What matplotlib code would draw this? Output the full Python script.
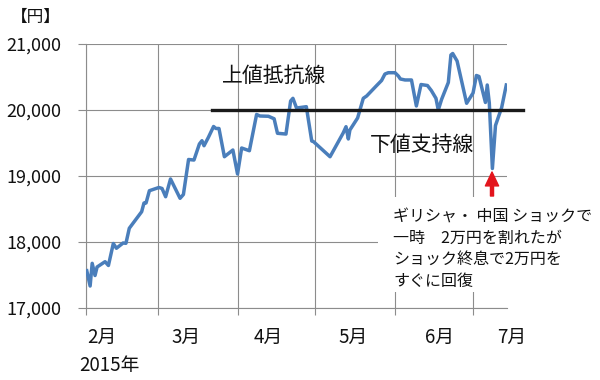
import matplotlib
matplotlib.use("Agg")
import matplotlib.pyplot as plt
import matplotlib.transforms as mtransforms
from matplotlib.patches import Rectangle
from matplotlib.ticker import FuncFormatter

plt.rcParams['font.family'] = ['Noto Sans CJK JP', 'DejaVu Sans']

# ---- data (x = days since 2015-02-01, y = price in yen) ----
days = [0.3, 1.6, 2.4, 3.5, 4.3, 7.4, 8.7, 10.6, 11.8, 14.4, 15.5, 16.8, 18.4,
        21.6, 22.5, 23.3, 24.6, 28.3, 29.5, 30.9, 32.8, 36.5, 37.8, 39.8, 41.9,
        44.0, 45.0, 45.8, 47.5, 49.5, 50.4, 51.6, 53.7, 57.0, 58.8, 60.4, 63.4,
        66.2, 67.5, 70.8, 73.0, 74.3, 77.6, 79.4, 80.3, 81.7, 85.5, 87.6, 88.3,
        94.7, 99.8, 100.9, 101.8, 102.4, 105.4, 107.6, 108.9, 112.8, 114.7,
        116.0, 117.3, 119.9, 121.2, 122.0, 123.8, 126.3, 128.2, 130.0, 132.5,
        134.0, 135.8, 136.7, 138.0, 140.6, 141.6, 142.3, 144.0, 147.7, 150.2,
        151.5, 152.5, 155.0, 155.7, 156.5, 157.7, 158.9, 161.3, 163.1]
values = [17565, 17333, 17677, 17492, 17621, 17702, 17644, 17977, 17905, 17985,
          17980, 18208, 18292, 18459, 18591, 18591, 18777, 18826, 18811, 18686,
          18955, 18662, 18720, 19250, 19242, 19485, 19535, 19459, 19586, 19750,
          19720, 19720, 19292, 19394, 19030, 19424, 19383, 19932, 19909, 19905,
          19867, 19647, 19636, 20136, 20177, 20030, 20050, 19530, 19520, 19292,
          19652, 19747, 19561, 19697, 19879, 20177, 20212, 20371, 20447, 20545,
          20565, 20565, 20515, 20470, 20455, 20455, 20061, 20386, 20371, 20295,
          20177, 20000, 20162, 20417, 20833, 20856, 20742, 20102, 20258, 20523,
          20508, 20114, 20379, 20106, 19114, 19765, 20038, 20379]

month_starts = [0, 28, 59, 89, 120, 150]
month_labels = ['2月', '3月', '4月', '5月', '6月', '7月']
year_label = '2015年'
unit_label = '【円】'
y_ticks = [17000, 18000, 19000, 20000, 21000]
level = 20000
resistance_label = '上値抵抗線'
support_label = '下値支持線'
note_lines = ['ギリシャ・ 中国 ショックで',
              '一時\u30002万円を割れたが',
              'ショック終息で2万円を',
              'すぐに回復']

# ---- layout helpers ----
W, H = 600, 380
PX_PER_DAY = 2.577
X0 = 86


def fx(px):
    return px / W


def fy(py):
    return 1 - py / H


def day(px):
    return (px - X0) / PX_PER_DAY


def val(py):
    return 21000 - (py - 44) * 1000 / 66


fig = plt.figure(figsize=(6, 3.8), dpi=100)
ax = fig.add_axes([fx(86), fy(308), (507 - 86) / W, (308 - 44) / H])

grey = '#8c8c8c'
ax.set_xlim(0, day(507))
ax.set_ylim(17000, 21000)
ax.set_yticks(y_ticks)
ax.yaxis.set_major_formatter(FuncFormatter(lambda v, p: f'{v:,.0f}'))
ax.set_xticks(month_starts)
ax.tick_params(axis='x', labelbottom=False, length=5, color=grey, width=0.8)
ax.tick_params(axis='y', length=6, color=grey, width=0.8, pad=12,
               labelsize=13, labelcolor='#111111')
ax.grid(True, color=grey, lw=0.8)
for s in ['top', 'right']:
    ax.spines[s].set_visible(False)
for s in ['left', 'bottom']:
    ax.spines[s].set_color(grey)
    ax.spines[s].set_linewidth(0.8)

# price line
ax.plot(days, values, color='#4a7ebb', lw=2.5, zorder=3, solid_joinstyle='round')

# horizontal resistance/support line
ax.plot([day(212), day(523)], [level, level], color='#1a1a1a', lw=2.4,
        zorder=4, clip_on=False)

ax.text(day(222), val(76), resistance_label, fontsize=15, ha='left',
        va='center', color='#111111')
ax.text(day(370), val(145), support_label, fontsize=15, ha='left',
        va='center', color='#111111')

# red arrow
ax.annotate('', xy=(day(492), val(172)), xytext=(day(492), val(196)),
            arrowprops=dict(facecolor='#e3141c', edgecolor='#e3141c',
                            width=2.2, headwidth=9.5, headlength=10, shrink=0),
            annotation_clip=False, zorder=5)

# white box behind note
ax.add_patch(Rectangle((fx(378), fy(292)), fx(600) - fx(378), fy(197) - fy(292),
                       transform=fig.transFigure, facecolor='white',
                       edgecolor='none', zorder=1.8, clip_on=False))

note_y = [217, 238, 259.5, 281]
for line, py in zip(note_lines, note_y):
    fig.text(fx(393), fy(py), line, fontsize=11.5, ha='left', va='center',
             color='#111111')

# month labels
trans = mtransforms.blended_transform_factory(ax.transData, fig.transFigure)
label_px = [101.5, 186, 268, 353.5, 440, 511.5]
for lab, px in zip(month_labels, label_px):
    ax.text(day(px), fy(337), lab, transform=trans, fontsize=13.5,
            ha='center', va='center', clip_on=False, color='#111111')

fig.text(fx(79), fy(365), year_label, fontsize=13.5, ha='left', va='center',
         color='#111111')
fig.text(fx(35.5), fy(17), unit_label, fontsize=12, ha='center', va='center',
         color='#111111')

fig.savefig('out.png', dpi=100)
